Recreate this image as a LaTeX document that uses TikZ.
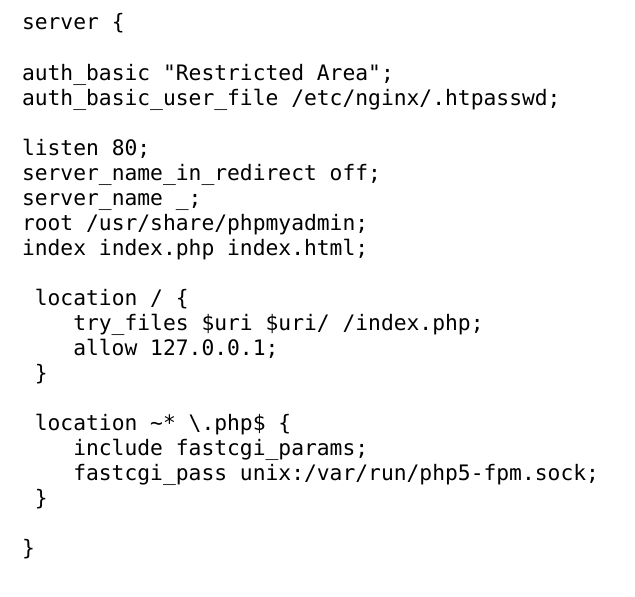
\documentclass[tikz,border=0pt]{standalone}
\usepackage{fontspec}
\setmonofont{DejaVu Sans Mono}
\begin{document}
\begin{tikzpicture}[x=1pt,y=1pt,
  codeline/.style={anchor=base west,inner sep=0pt,outer sep=0pt,font=\fontsize{21.3}{25}\selectfont\ttfamily,text=black}]
\fill[white] (0,0) rectangle (635,-597);
\useasboundingbox (0,0) rectangle (635,-597);
\def\cw{12.82}
\def\lx{22}
\node[codeline] (l1)  at (\lx,-30)  {server \{};
\node[codeline] (l3)  at (\lx,-80)  {auth\_basic "Restricted Area";};
\node[codeline] (l4)  at (\lx,-105) {auth\_basic\_user\_file /etc/nginx/.htpasswd;};
\node[codeline] (l6)  at (\lx,-155) {listen 80;};
\node[codeline] (l7)  at (\lx,-180) {server\_name\_in\_redirect off;};
\node[codeline] (l8)  at (\lx,-205) {server\_name \_;};
\node[codeline] (l9)  at (\lx,-230) {root /usr/share/phpmyadmin;};
\node[codeline] (l10) at (\lx,-255) {index index.php index.html;};
\node[codeline] (l12) at (\lx+\cw,-305) {location / \{};
\node[codeline] (l13) at (\lx+4*\cw,-330) {try\_files \$uri \$uri/ /index.php;};
\node[codeline] (l14) at (\lx+4*\cw,-355) {allow 127.0.0.1;};
\node[codeline] (l15) at (\lx+\cw,-380) {\}};
\node[codeline] (l17) at (\lx+\cw,-430) {location \textasciitilde* \textbackslash.php\$ \{};
\node[codeline] (l18) at (\lx+4*\cw,-455) {include fastcgi\_params;};
\node[codeline] (l19) at (\lx+4*\cw,-480) {fastcgi\_pass unix:/var/run/php5-fpm.sock;};
\node[codeline] (l20) at (\lx+\cw,-505) {\}};
\node[codeline] (l22) at (\lx,-555) {\}};
\end{tikzpicture}
\end{document}
